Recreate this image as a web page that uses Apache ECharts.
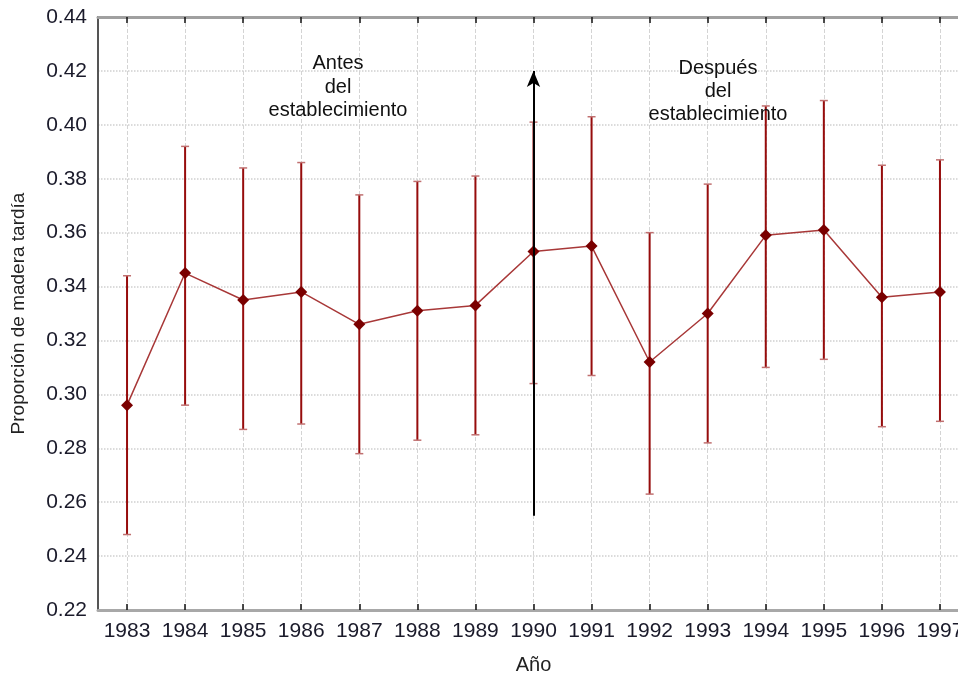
<!DOCTYPE html>
<html>
<head>
<meta charset="utf-8">
<script src="https://cdn.jsdelivr.net/npm/echarts@6/dist/echarts.min.js"></script>
<style>
  html, body { margin: 0; padding: 0; background: #fff; overflow: hidden; }
  #main { width: 969px; height: 675px; }
</style>
</head>
<body>
<div id="main"></div>
<script>
var years = ['1983','1984','1985','1986','1987','1988','1989','1990','1991','1992','1993','1994','1995','1996','1997'];
var means = [0.296, 0.345, 0.335, 0.338, 0.326, 0.331, 0.333, 0.353, 0.355, 0.312, 0.330, 0.359, 0.361, 0.336, 0.338];
var lower = [0.248, 0.296, 0.287, 0.289, 0.278, 0.283, 0.285, 0.304, 0.307, 0.263, 0.282, 0.310, 0.313, 0.288, 0.290];
var upper = [0.344, 0.392, 0.384, 0.386, 0.374, 0.379, 0.381, 0.401, 0.403, 0.360, 0.378, 0.407, 0.409, 0.385, 0.387];
var arrowYear = '1990';
var arrowFrom = 0.255;
var arrowTo = 0.420;

var font = 'Liberation Sans, Arial, sans-serif';
// the plot runs a little past the right edge of the window, as in the original
var myChart = echarts.init(document.getElementById('main'));

var errData = [];
for (var i = 0; i < years.length; i++) {
  errData.push([i, lower[i], upper[i]]);
}

myChart.setOption({
  animation: false,
  grid: {
    left: 98, right: 0, top: 17, bottom: 65,
    outerBoundsMode: 'none',
    containLabel: false,
    show: true, borderColor: '#a0a0a0', borderWidth: 2
  },
  xAxis: [{
    type: 'category',
    data: years,
    name: 'Año',
    nameLocation: 'middle',
    nameGap: 45,
    nameTextStyle: { fontFamily: font, fontSize: 20, color: '#222' },
    axisLine: { lineStyle: { color: '#a8a8a8', width: 3 } },
    axisTick: { show: true, inside: true, alignWithLabel: true, interval: 0, length: 6, lineStyle: { color: '#111', width: 1.5 } },
    axisLabel: { fontFamily: font, fontSize: 21, color: '#1a1a2a', margin: 11, interval: 0 },
    splitLine: { show: true, interval: 0, alignWithLabel: true, lineStyle: { color: '#d4d4d4', type: 'dashed', width: 1 } }
  }, {
    type: 'category',
    data: years,
    position: 'top',
    axisLine: { lineStyle: { color: '#a0a0a0', width: 3 } },
    axisTick: { show: true, inside: true, alignWithLabel: true, interval: 0, length: 6, lineStyle: { color: '#111', width: 1.5 } },
    axisLabel: { show: false }
  }],
  yAxis: {
    type: 'value',
    min: 0.22,
    max: 0.44,
    interval: 0.02,
    name: 'Proporción de madera tardía',
    nameLocation: 'middle',
    nameGap: 70,
    nameTextStyle: { fontFamily: font, fontSize: 19, color: '#222' },
    axisLine: { show: true, lineStyle: { color: '#555', width: 2 } },
    axisTick: { show: false },
    axisLabel: { fontFamily: font, fontSize: 21, color: '#1a1a2a', margin: 11,
      formatter: function (v) { return v.toFixed(2); } },
    splitLine: { show: true, lineStyle: { color: '#cfcfcf', type: 'dotted', width: 1.5 } }
  },
  graphic: [
    { type: 'text', x: 338, y: 52, z: 10, style: { text: 'Antes\ndel\nestablecimiento', align: 'center',
      font: '20px ' + font, fill: '#111', lineHeight: 23.5 } },
    { type: 'text', x: 718, y: 57, z: 10, style: { text: 'Después\ndel\nestablecimiento', align: 'center',
      font: '20px ' + font, fill: '#111', lineHeight: 23 } }
  ],
  series: [{
    type: 'custom',
    data: errData,
    z: 3,
    renderItem: function (params, api) {
      var lo = api.coord([api.value(0), api.value(1)]);
      var hi = api.coord([api.value(0), api.value(2)]);
      var w = 4;
      var st = { stroke: '#960c0c', lineWidth: 2 };
      var cap = { stroke: '#c07070', lineWidth: 1.5 };
      return {
        type: 'group',
        children: [
          { type: 'line', shape: { x1: lo[0], y1: lo[1], x2: hi[0], y2: hi[1] }, style: st },
          { type: 'line', shape: { x1: lo[0] - w, y1: lo[1], x2: lo[0] + w, y2: lo[1] }, style: cap },
          { type: 'line', shape: { x1: hi[0] - w, y1: hi[1], x2: hi[0] + w, y2: hi[1] }, style: cap }
        ]
      };
    }
  }, {
    type: 'line',
    data: means,
    z: 4,
    symbol: 'diamond',
    symbolSize: 12,
    itemStyle: { color: '#7a0000' },
    lineStyle: { color: '#a83838', width: 1.5 },
    markLine: {
      silent: true,
      symbol: ['none', 'arrow'],
      symbolSize: [10, 16],
      label: { show: false },
      lineStyle: { color: '#000', width: 2, type: 'solid' },
      data: [[{ coord: [arrowYear, arrowFrom] }, { coord: [arrowYear, arrowTo] }]]
    }
  }]
});
</script>
</body>
</html>
